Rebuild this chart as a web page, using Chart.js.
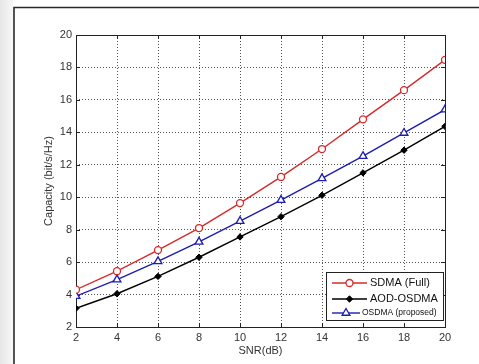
<!DOCTYPE html>
<html>
<head>
<meta charset="utf-8">
<script src="https://cdn.jsdelivr.net/npm/chart.js@4/dist/chart.umd.min.js"></script>
<style>
  html, body { margin: 0; padding: 0; background: #fff; }
  canvas { display: block; }
</style>
</head>
<body>
<canvas id="capacityChart" width="479" height="364"></canvas>
<script>
// SNR sweep (dB) and sum capacity per scheme
const snrDb = [2, 4, 6, 8, 10, 12, 14, 16, 18, 20];
const sdmaFull = [4.3, 5.44, 6.74, 8.1, 9.64, 11.25, 12.97, 14.8, 16.6, 18.47];
const aodOsdma = [3.15, 4.05, 5.12, 6.3, 7.55, 8.8, 10.12, 11.5, 12.9, 14.37];
const osdmaProposed = [3.9, 4.92, 6.05, 7.25, 8.53, 9.82, 11.16, 12.53, 13.96, 15.4];

const seriesLabels = ['SDMA (Full)', 'AOD-OSDMA', 'OSDMA (proposed)'];
const axisTicks = [2, 4, 6, 8, 10, 12, 14, 16, 18, 20];

const FONT = '"Liberation Sans", Arial, sans-serif';

function toPoints(values) {
    return snrDb.map((x, i) => ({ x: x, y: values[i] }));
}

// white page, outer frame lines
const backgroundPlugin = {
    id: 'pageBackground',
    beforeDraw(chart) {
        const ctx = chart.ctx;
        ctx.save();
        ctx.fillStyle = '#fff';
        ctx.fillRect(0, 0, chart.width, chart.height);
        // soft gray strip on the far left
        const g = ctx.createLinearGradient(0, 0, 13, 0);
        g.addColorStop(0, '#e6e6e6');
        g.addColorStop(1, '#f8f8f8');
        ctx.fillStyle = g;
        ctx.fillRect(0, 0, 13, chart.height);
        ctx.strokeStyle = '#2a2a2a';
        ctx.lineWidth = 1.6;
        ctx.beginPath();
        ctx.moveTo(14, chart.height);
        ctx.lineTo(14, 7.5);
        ctx.lineTo(chart.width, 7.5);
        ctx.stroke();
        ctx.restore();
    }
};

// box round the axes with inward ticks on all four sides
const axesBoxPlugin = {
    id: 'axesBox',
    beforeDatasetsDraw(chart) {
        const ctx = chart.ctx;
        const a = chart.chartArea;
        const xs = chart.scales.x, ys = chart.scales.y;
        const tl = 4;
        ctx.save();
        ctx.strokeStyle = '#222';
        ctx.lineWidth = 1;
        ctx.strokeRect(Math.round(a.left) + 0.5, Math.round(a.top) + 0.5,
            Math.round(a.right - a.left), Math.round(a.bottom - a.top));
        ctx.beginPath();
        axisTicks.forEach(v => {
            const px = Math.round(xs.getPixelForValue(v)) + 0.5;
            ctx.moveTo(px, a.bottom); ctx.lineTo(px, a.bottom - tl);
            ctx.moveTo(px, a.top); ctx.lineTo(px, a.top + tl);
            const py = Math.round(ys.getPixelForValue(v)) + 0.5;
            ctx.moveTo(a.left, py); ctx.lineTo(a.left + tl, py);
            ctx.moveTo(a.right, py); ctx.lineTo(a.right - tl, py);
        });
        ctx.stroke();
        ctx.restore();
    }
};

// legend box in the lower right corner of the axes
const legendBoxPlugin = {
    id: 'legendBox',
    afterDraw(chart) {
        const ctx = chart.ctx;
        const box = { left: 326.5, top: 272.5, right: 443.5, bottom: 320.5 };
        const rows = [
            { y: 283, size: 11, x0: 332, x1: 367, tx: 370 },
            { y: 299, size: 11, x0: 332, x1: 367, tx: 370 },
            { y: 313, size: 8.5, x0: 332, x1: 360, tx: 362 }
        ];
        ctx.save();
        ctx.fillStyle = '#fff';
        ctx.fillRect(box.left, box.top, box.right - box.left, box.bottom - box.top);
        ctx.strokeStyle = '#222';
        ctx.lineWidth = 1;
        ctx.strokeRect(box.left, box.top, box.right - box.left, box.bottom - box.top);

        chart.data.datasets.forEach((ds, i) => {
            const r = rows[i];
            ctx.strokeStyle = ds.borderColor;
            ctx.lineWidth = ds.borderWidth;
            ctx.beginPath();
            ctx.moveTo(r.x0, r.y);
            ctx.lineTo(r.x1, r.y);
            ctx.stroke();
            ctx.fillStyle = ds.pointBackgroundColor;
            ctx.strokeStyle = ds.pointBorderColor;
            ctx.lineWidth = ds.pointBorderWidth;
            Chart.helpers.drawPoint(ctx, {
                pointStyle: ds.pointStyle,
                radius: ds.pointRadius,
                borderWidth: ds.pointBorderWidth,
                rotation: 0
            }, (r.x0 + r.x1) / 2, r.y);
            ctx.fillStyle = '#111';
            ctx.font = r.size + 'px ' + FONT;
            ctx.textBaseline = 'middle';
            ctx.textAlign = 'left';
            ctx.fillText(ds.label, r.tx, r.y);
        });
        ctx.restore();
    }
};

new Chart(document.getElementById('capacityChart'), {
    type: 'line',
    plugins: [backgroundPlugin, axesBoxPlugin, legendBoxPlugin],
    data: {
        datasets: [
            {
                label: seriesLabels[0],
                data: toPoints(sdmaFull),
                borderColor: '#d62a2a',
                borderWidth: 1.4,
                pointStyle: 'circle',
                pointRadius: 3.5,
                pointBorderWidth: 1.3,
                pointBorderColor: '#d62a2a',
                pointBackgroundColor: '#fff',
                tension: 0
            },
            {
                label: seriesLabels[1],
                data: toPoints(aodOsdma),
                borderColor: '#000',
                borderWidth: 1.4,
                pointStyle: 'rectRot',
                pointRadius: 3.2,
                pointBorderWidth: 1,
                pointBorderColor: '#000',
                pointBackgroundColor: '#000',
                tension: 0
            },
            {
                label: seriesLabels[2],
                data: toPoints(osdmaProposed),
                borderColor: '#1c1cb0',
                borderWidth: 1.4,
                pointStyle: 'triangle',
                pointRadius: 4.5,
                pointBorderWidth: 1.3,
                pointBorderColor: '#1c1cb0',
                pointBackgroundColor: '#fff',
                tension: 0
            }
        ]
    },
    options: {
        responsive: false,
        animation: false,
        layout: { padding: { left: 42, top: 35, right: 34, bottom: 6 } },
        plugins: {
            legend: { display: false },
            tooltip: { enabled: false }
        },
        scales: {
            x: {
                type: 'linear',
                min: 2,
                max: 20,
                afterFit: s => { s.height = 31; },
                afterBuildTicks: s => { s.ticks = axisTicks.map(v => ({ value: v })); },
                grid: {
                    color: '#555',
                    lineWidth: 1,
                    drawTicks: false
                },
                border: { display: false, dash: [1, 2] },
                ticks: {
                    padding: 4,
                    color: '#333',
                    font: { family: FONT, size: 11 },
                    maxRotation: 0
                },
                title: {
                    display: true,
                    text: 'SNR(dB)',
                    color: '#333',
                    font: { family: FONT, size: 11 },
                    padding: 0
                }
            },
            y: {
                type: 'linear',
                min: 2,
                max: 20,
                afterFit: s => { s.width = 34; },
                afterBuildTicks: s => { s.ticks = axisTicks.map(v => ({ value: v })); },
                grid: {
                    color: '#555',
                    lineWidth: 1,
                    drawTicks: false
                },
                border: { display: false, dash: [1, 2] },
                ticks: {
                    padding: 4,
                    color: '#333',
                    font: { family: FONT, size: 11 }
                },
                title: {
                    display: true,
                    text: 'Capacity (bit/s/Hz)',
                    color: '#333',
                    font: { family: FONT, size: 11 },
                    padding: 0
                }
            }
        }
    }
});
</script>
</body>
</html>
